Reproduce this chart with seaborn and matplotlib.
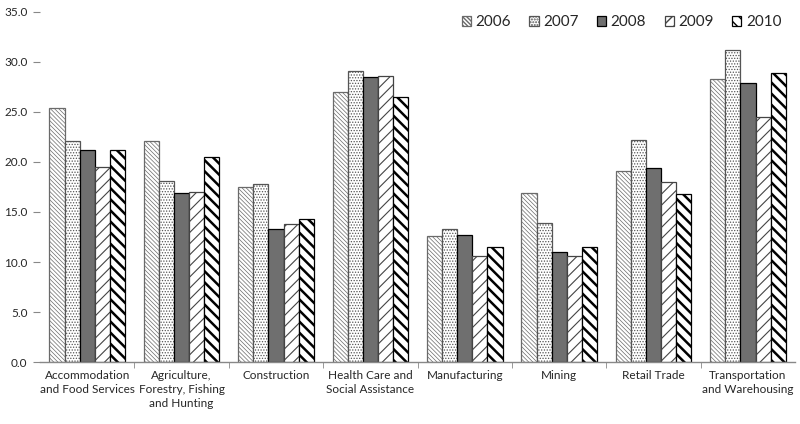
import pandas as pd
import numpy as np
import matplotlib
matplotlib.use("Agg")
import matplotlib.pyplot as plt
import seaborn as sns

# Values
industries = ["Accommodation\nand Food Services", "Agriculture,\nForestry, Fishing\nand Hunting",
              "Construction", "Health Care and\nSocial Assistance", "Manufacturing",
              "Mining", "Retail Trade", "Transportation\nand Warehousing"]
years = ["2006", "2007", "2008", "2009", "2010"]
v2006 = [25.4, 22.1, 17.5, 27.0, 12.6, 16.9, 19.1, 28.3]
v2007 = [22.1, 18.1, 17.8, 29.1, 13.3, 13.9, 22.2, 31.2]
v2008 = [21.2, 16.9, 13.3, 28.5, 12.7, 11.0, 19.4, 27.9]
v2009 = [19.5, 17.0, 13.8, 28.6, 10.6, 10.6, 18.0, 24.5]
v2010 = [21.2, 20.5, 14.3, 26.5, 11.5, 11.5, 16.8, 28.9]

rows = []
for yr, vals in zip(years, [v2006, v2007, v2008, v2009, v2010]):
    for ind, v in zip(industries, vals):
        rows.append({"industry": ind, "year": yr, "value": v})
df = pd.DataFrame(rows)

sns.set_style("white")
plt.rcParams["font.family"] = ["Lato", "DejaVu Sans"]

fig, ax = plt.subplots(figsize=(8, 4.24), dpi=100)
fig.subplots_adjust(left=0.05, right=0.994, top=0.972, bottom=0.146)

fills = ["white", "white", "#6f6f6f", "white", "white"]
sns.barplot(data=df, x="industry", y="value", hue="year", palette=fills,
            width=0.8, legend=False, ax=ax, saturation=1)

# hatch, edge colour, hatch line width per year
styles = [("\\" * 8, "#6a6a6a", 0.5),
          ("." * 6, "#555555", 0.6),
          ("", "black", 0.6),
          ("///", "#444444", 0.8),
          ("\\\\\\", "black", 1.8)]
for cont, (h, ec, hlw) in zip(ax.containers, styles):
    for p in cont.patches:
        p.set_hatch(h)
        p.set_edgecolor(ec)
        p.set_linewidth(0.9)
        if hasattr(p, "set_hatch_linewidth"):
            p.set_hatch_linewidth(hlw)

ax.set_ylim(0, 35)
ax.set_xlim(-0.5, len(industries) - 0.5)
ax.set_yticks(np.arange(0, 35.1, 5))
ax.set_yticklabels([f"{t:.1f}" for t in np.arange(0, 35.1, 5)], fontsize=8.5)
ax.set_xticklabels(industries, fontsize=8.5, linespacing=1.3)
ax.set_xlabel("")
ax.set_ylabel("")

for s in ["top", "right", "left"]:
    ax.spines[s].set_visible(False)
ax.spines["bottom"].set_color("#888888")
ax.spines["bottom"].set_linewidth(1)

ax.tick_params(axis="y", length=5, color="#888888", left=True, direction="out", pad=4)
ax.tick_params(axis="x", length=0, pad=6)
ax.set_xticks(np.arange(0.5, len(industries) - 0.5, 1), minor=True)
ax.tick_params(axis="x", which="minor", length=4, color="#888888", bottom=True, direction="out")

handles = [c.patches[0] for c in ax.containers]
leg = ax.legend(handles, years, loc="upper right", bbox_to_anchor=(1.0, 1.03), ncol=5,
                frameon=False, fontsize=11, handlelength=0.6, handleheight=0.6,
                handletextpad=0.3, columnspacing=1.2)

fig.savefig("out.png", dpi=100)
